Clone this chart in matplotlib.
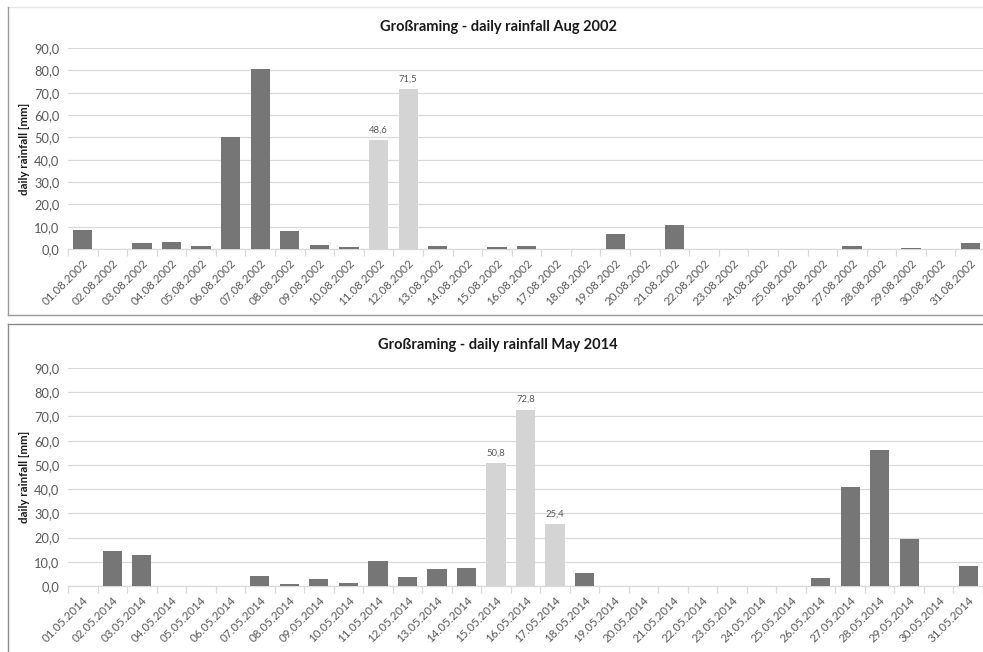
import matplotlib
matplotlib.use("Agg")
import matplotlib.pyplot as plt
from matplotlib.ticker import FuncFormatter, FixedLocator
from matplotlib.lines import Line2D

plt.rcParams['font.family'] = ['Lato', 'DejaVu Sans']

# --- data -------------------------------------------------------------
days_aug = [f"{d:02d}.08.2002" for d in range(1, 32)]
rain_aug = [8.3, 0.0, 2.5, 3.1, 1.2, 50.1, 80.6, 7.9, 1.6, 0.9,
            48.6, 71.5, 1.2, 0.0, 0.7, 1.5, 0.0, 0.0, 6.7, 0.0,
            10.6, 0.0, 0.0, 0.0, 0.0, 0.0, 1.2, 0.0, 0.4, 0.0, 2.5]
flood_aug = ["11.08.2002", "12.08.2002"]

days_may = [f"{d:02d}.05.2014" for d in range(1, 32)]
rain_may = [0.0, 14.5, 12.6, 0.0, 0.0, 0.0, 4.1, 0.7, 3.0, 1.1,
            10.2, 3.7, 6.9, 7.6, 50.8, 72.8, 25.4, 5.2, 0.0, 0.0,
            0.0, 0.0, 0.0, 0.0, 0.0, 3.2, 41.0, 56.2, 19.6, 0.0, 8.3]
flood_may = ["15.05.2014", "16.05.2014", "17.05.2014"]

titles = ["Großraming - daily rainfall Aug 2002",
          "Großraming - daily rainfall May 2014"]
y_label = "daily rainfall [mm]"
y_ticks = [0, 10, 20, 30, 40, 50, 60, 70, 80, 90]

# --- styling ----------------------------------------------------------
W, H = 983, 652
DARK = "#767676"
LIGHT = "#d4d4d4"
GRID = "#d9d9d9"
TXT = "#595959"

fig = plt.figure(figsize=(W / 100, H / 100), dpi=100)
fig.patch.set_facecolor("white")


def px_axes(left, top, right, bottom):
    return fig.add_axes([left / W, 1 - bottom / H, (right - left) / W, (bottom - top) / H])


def draw_panel(ax, days, rain, flood):
    x = list(range(len(days)))
    colors = [LIGHT if d in flood else DARK for d in days]
    ax.bar(x, rain, width=0.65, color=colors, zorder=3)
    for xi, d, v in zip(x, days, rain):
        if d in flood:
            ax.annotate(f"{v:.1f}".replace(".", ","), (xi, v), xytext=(0, 4),
                        textcoords="offset points", ha="center", va="bottom",
                        fontsize=6.8, color=TXT)
    ax.set_xlim(-0.5, len(days) - 0.5)
    ax.set_ylim(0, 90)
    ax.set_yticks(y_ticks)
    ax.yaxis.set_major_formatter(FuncFormatter(lambda v, p: f"{v:.1f}".replace(".", ",")))
    ax.yaxis.grid(True, color=GRID, lw=0.9, zorder=0)
    ax.set_axisbelow(True)
    for s in ("top", "right", "left"):
        ax.spines[s].set_visible(False)
    ax.spines["bottom"].set_color(GRID)
    ax.spines["bottom"].set_linewidth(0.9)
    ax.tick_params(axis="y", length=0, labelsize=9.3, labelcolor=TXT, pad=6)
    ax.set_xticks(x)
    ax.set_xticklabels(days, rotation=45, ha="right", va="top",
                       rotation_mode="anchor", fontsize=8.4, color=TXT)
    ax.tick_params(axis="x", which="major", length=0, pad=6)
    ax.xaxis.set_minor_locator(FixedLocator([i - 0.5 for i in range(len(days) + 1)]))
    ax.tick_params(axis="x", which="minor", length=5, color=GRID, width=0.9)


ax1 = px_axes(68, 48, 985, 249)
draw_panel(ax1, days_aug, rain_aug, flood_aug)
ax2 = px_axes(68, 368, 983, 586)
draw_panel(ax2, days_may, rain_may, flood_may)

fig.text(498 / W, 1 - 27 / H, titles[0], ha="center", va="center",
         fontsize=10.5, fontweight="bold", color="#1a1a1a")
fig.text(498 / W, 1 - 345 / H, titles[1], ha="center", va="center",
         fontsize=10.5, fontweight="bold", color="#1a1a1a")
fig.text(25 / W, 1 - 149 / H, y_label, rotation=90, ha="center", va="center",
         fontsize=8.3, fontweight="bold", color="#1a1a1a")
fig.text(25 / W, 1 - 477 / H, y_label, rotation=90, ha="center", va="center",
         fontsize=8.3, fontweight="bold", color="#1a1a1a")

# chart frames
def fline(xs, ys, color, lw=1.0):
    fig.add_artist(Line2D([v / W for v in xs], [1 - v / H for v in ys],
                          color=color, lw=lw))

fline([8, 983], [7, 7], "#e6e6e6")
fline([8, 8], [7, 315], "#9a9a9a")
fline([8, 983], [315, 315], "#9a9a9a")
fline([8, 983], [324, 324], "#8a8a8a")
fline([8, 8], [324, 652], "#8a8a8a")

fig.savefig("out.png", dpi=100, facecolor="white")
